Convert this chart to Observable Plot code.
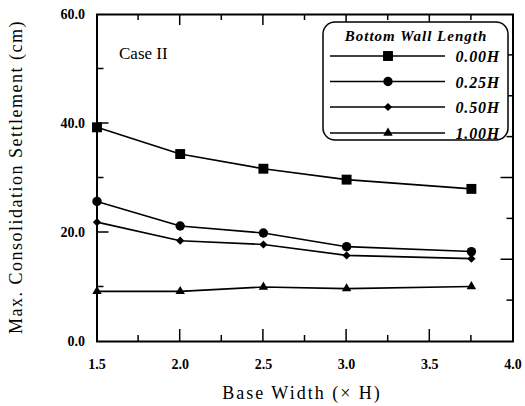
<!DOCTYPE html>
<html><head><meta charset="utf-8">
<script src="https://cdn.jsdelivr.net/npm/d3@7"></script>
<script src="https://cdn.jsdelivr.net/npm/@observablehq/plot@0.6"></script>
<style>
body{margin:0;background:#fff}
g[aria-label="x-axis tick label"] text, g[aria-label="y-axis tick label"] text {font-weight:bold; font-size:14px;}
</style>
</head><body><div id="chart"></div>
<script>
// ---- data ----
const baseWidth = [1.5, 2.0, 2.5, 3.0, 3.75];
const seriesNames = ["0.00H", "0.25H", "0.50H", "1.00H"];
const settle000 = [39.3, 34.4, 31.7, 29.7, 28.0];
const settle025 = [25.7, 21.2, 19.9, 17.4, 16.5];
const settle050 = [21.9, 18.5, 17.8, 15.8, 15.2];
const settle100 = [9.2, 9.2, 10.0, 9.7, 10.1];
const xTickLabels = [1.5, 2.0, 2.5, 3.0, 3.5, 4.0];
const xMinorTicks = [1.75, 2.25, 2.75, 3.25, 3.75];
const yTickLabels = [0, 20, 40, 60];
const yMinorTicks = [10, 30, 50];
const yRightMajor = [15, 30, 45];
const yRightMinor = [7.5, 22.5, 37.5, 52.5];

const seriesValues = [settle000, settle025, settle050, settle100];
const symbols = ["square", "circle", "diamond2", "triangle"];
const radii = [5.6, 4.7, 3.7, 3.5];

const table = seriesNames.flatMap((s, i) => baseWidth.map((x, j) => ({series: s, x, y: seriesValues[i][j]})));

const fmt = d3.format(".1f");
const marks = [
  Plot.frame({stroke: "black", strokeWidth: 2}),
  Plot.axisX(xTickLabels, {anchor: "bottom", tickSize: 0, tickPadding: 18, tickFormat: fmt, label: null}),
  Plot.axisY(yTickLabels, {anchor: "left", tickSize: 0, tickPadding: 12, tickFormat: fmt, label: null}),
  Plot.text(["Case II"], {frameAnchor: "top-left", dx: 22, dy: 32, text: d => d, fontSize: 17, textAnchor: "start", letterSpacing: 0.8})
];
seriesNames.forEach((s, i) => {
  const d = table.filter(r => r.series === s);
  marks.push(Plot.line(d, {x: "x", y: "y", stroke: "black", strokeWidth: 1.6}));
  marks.push(Plot.dot(d, {x: "x", y: "y", symbol: () => symbols[i], r: radii[i], fill: "black", stroke: "none"}));
});

const chart = Plot.plot({
  width: 525, height: 406,
  marginLeft: 96.5, marginRight: 12.5, marginTop: 14, marginBottom: 65,
  x: {domain: [1.5, 4.0]},
  y: {domain: [0, 60]},
  symbol: {type: "identity"},
  style: {fontFamily: "'Liberation Serif', serif", fontSize: "14px", color: "black", background: "white"},
  marks
});
document.getElementById("chart").appendChild(chart);

const svg = d3.select(chart);
const sx = chart.scale("x"), sy = chart.scale("y");
const fLeft = sx.apply(1.5), fRight = sx.apply(4.0), fBottom = sy.apply(0), fTop = sy.apply(60);

// inward ticks placed with Plot's scales
const tg = svg.append("g").attr("stroke", "black").attr("stroke-width", 1.5);
const vTick = (v, y0, len) => tg.append("line").attr("x1", sx.apply(v)).attr("x2", sx.apply(v)).attr("y1", y0).attr("y2", y0 + len);
const hTick = (v, x0, len) => tg.append("line").attr("y1", sy.apply(v)).attr("y2", sy.apply(v)).attr("x1", x0).attr("x2", x0 + len);
xTickLabels.slice(1, -1).forEach(v => { vTick(v, fBottom, -12); vTick(v, fTop, 11); });
xMinorTicks.forEach(v => { vTick(v, fBottom, -6); vTick(v, fTop, 6); });
yTickLabels.slice(1, -1).forEach(v => hTick(v, fLeft, 12));
yMinorTicks.forEach(v => hTick(v, fLeft, 7));
yRightMajor.forEach(v => hTick(v, fRight, -12));
yRightMinor.forEach(v => hTick(v, fRight, -6));

// axis titles
svg.append("text").attr("x", 302).attr("y", 399).attr("text-anchor", "middle")
  .attr("font-size", 18).attr("letter-spacing", 2).attr("fill", "black").text("Base Width (× H)");
svg.append("text").attr("transform", "translate(22,177) rotate(-90)").attr("text-anchor", "middle")
  .attr("font-size", 18).attr("letter-spacing", 1.5).attr("fill", "black").text("Max. Consolidation Settlement (cm)");

// legend
const lg = svg.append("g");
lg.append("rect").attr("x", 323).attr("y", 22).attr("width", 185).attr("height", 118).attr("rx", 12)
  .attr("fill", "white").attr("stroke", "black").attr("stroke-width", 1.5);
lg.append("text").attr("x", 416).attr("y", 41).attr("text-anchor", "middle").attr("font-size", 15)
  .attr("letter-spacing", 1).attr("font-style", "italic").attr("font-weight", "bold").attr("fill", "black").text("Bottom Wall Length");
const rowY = [56, 81.5, 107, 133];
const symMap = {square: d3.symbolSquare, circle: d3.symbolCircle, diamond2: d3.symbolDiamond2, triangle: d3.symbolTriangle};
seriesNames.forEach((s, i) => {
  const y = rowY[i];
  lg.append("line").attr("x1", 330).attr("x2", 445).attr("y1", y).attr("y2", y).attr("stroke", "black").attr("stroke-width", 1.5);
  lg.append("path").attr("transform", `translate(388,${y})`)
    .attr("d", d3.symbol(symMap[symbols[i]], Math.PI * radii[i] * radii[i])()).attr("fill", "black");
  lg.append("text").attr("x", 500).attr("y", y + 6).attr("text-anchor", "end").attr("font-size", 16)
    .attr("letter-spacing", 0.8).attr("font-style", "italic").attr("font-weight", "bold").attr("fill", "black").text(s);
});
</script></body></html>
